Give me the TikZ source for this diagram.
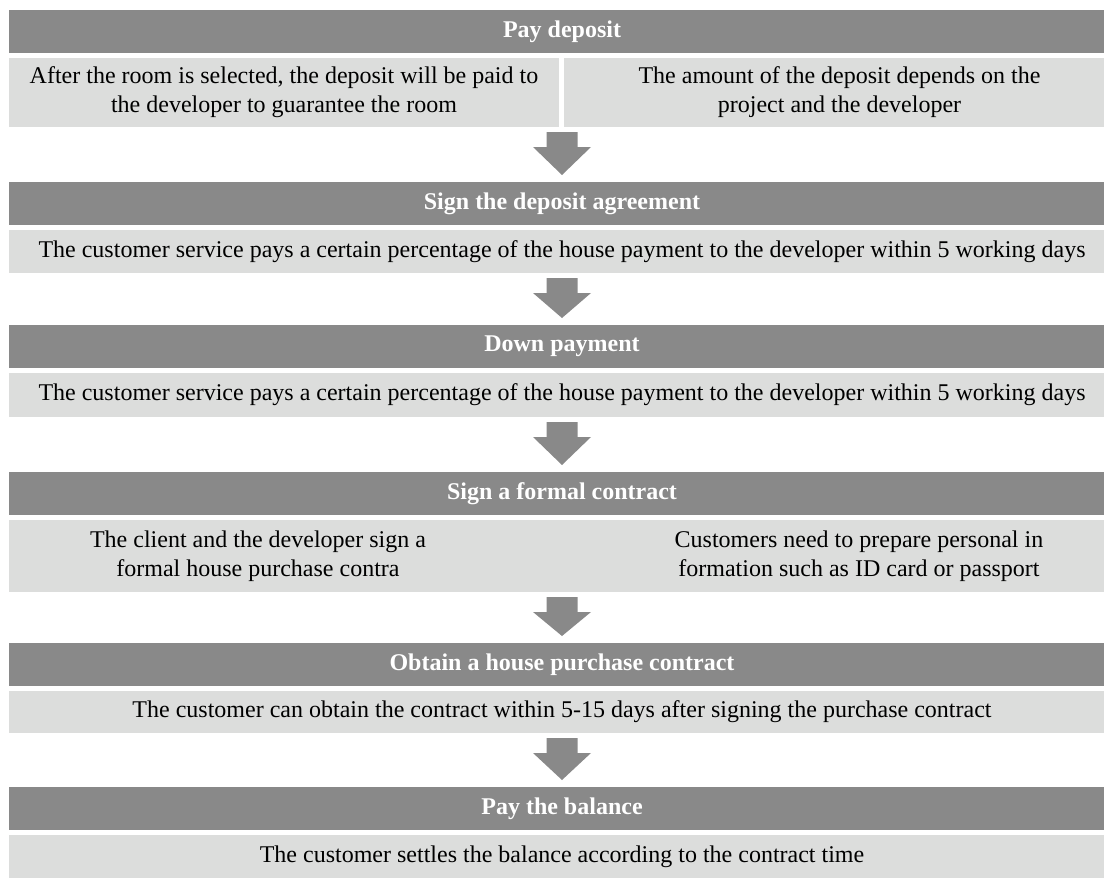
\documentclass[tikz,border=0pt]{standalone}
\usepackage{fontspec}
\setmainfont{Liberation Serif}
\usepackage{xcolor}
\usetikzlibrary{positioning, calc}
\definecolor{headgray}{HTML}{898989}
\definecolor{cellgray}{HTML}{DCDDDC}

% block arrow from the box above to the header below
\newcommand{\flowarrow}[2]{%
  \path ([yshift=-5pt]#2.north |- #1.south) coordinate (atop)
        ([yshift=7pt]#2.north) coordinate (atip);
  \fill[headgray] ($(atop)+(-15.5,0)$) -- ($(atop)+(15.5,0)$) -- ($(atop)+(15.5,15)$)
    -- ($(atop)+(29,15)$) -- (atip) -- ($(atop)+(-29,15)$) -- ($(atop)+(-15.5,15)$) -- cycle;}

\begin{document}
\begin{tikzpicture}[
    x=1pt, y=-1pt,
    every node/.style={font=\fontsize{24}{29}\selectfont, align=center, inner sep=0pt, outer sep=0pt},
    headbox/.style={rectangle, fill=headgray, text=white, font=\fontsize{24}{29}\selectfont\bfseries,
                    minimum width=1106pt, minimum height=43pt},
    cellbox/.style={rectangle, fill=cellgray, minimum width=1106pt, minimum height=43pt}
]
\clip (0,0) rectangle (1104,878);

% --- Pay deposit ---
\node[headbox] (h1) at (562,31.5) {Pay deposit};
\node[cellbox, anchor=north west, minimum width=550pt, minimum height=69pt] (c1a) at ([yshift=-5pt]h1.south west)
  {After the room is selected, the deposit will be paid to\\the developer to guarantee the room};
\node[cellbox, anchor=north west, minimum width=551pt, minimum height=69pt, right=5pt of c1a]
  (c1b) {The amount of the deposit depends on the\\project and the developer};

% --- Sign the deposit agreement ---
\node[headbox, anchor=north] (h2) at ([yshift=-55pt]h1.south |- c1a.south) {Sign the deposit agreement};
\node[cellbox, below=5pt of h2] (c2) {The customer service pays a certain percentage of the house payment to the developer within 5 working days};

% --- Down payment ---
\node[headbox, below=52pt of c2] (h3) {Down payment};
\node[cellbox, minimum height=44pt, below=5pt of h3] (c3) {The customer service pays a certain percentage of the house payment to the developer within 5 working days};

% --- Sign a formal contract ---
\node[headbox, below=55pt of c3] (h4) {Sign a formal contract};
\node[cellbox, minimum height=72pt, below=5pt of h4] (c4) {};
\node (c4l) at (258,556) {The client and the developer sign a\\formal house purchase contra};
\node (c4r) at (859,556) {Customers need to prepare personal in\\formation such as ID card or passport};

% --- Obtain a house purchase contract ---
\node[headbox, below=51pt of c4] (h5) {Obtain a house purchase contract};
\node[cellbox, minimum height=42pt, below=5pt of h5] (c5) {The customer can obtain the contract within 5-15 days after signing the purchase contract};

% --- Pay the balance ---
\node[headbox, below=54pt of c5] (h6) {Pay the balance};
\node[cellbox, below=5pt of h6] (c6) {The customer settles the balance according to the contract time};

% --- Arrows ---
\flowarrow{c1a}{h2}
\flowarrow{c2}{h3}
\flowarrow{c3}{h4}
\flowarrow{c4}{h5}
\flowarrow{c5}{h6}

\end{tikzpicture}
\end{document}
